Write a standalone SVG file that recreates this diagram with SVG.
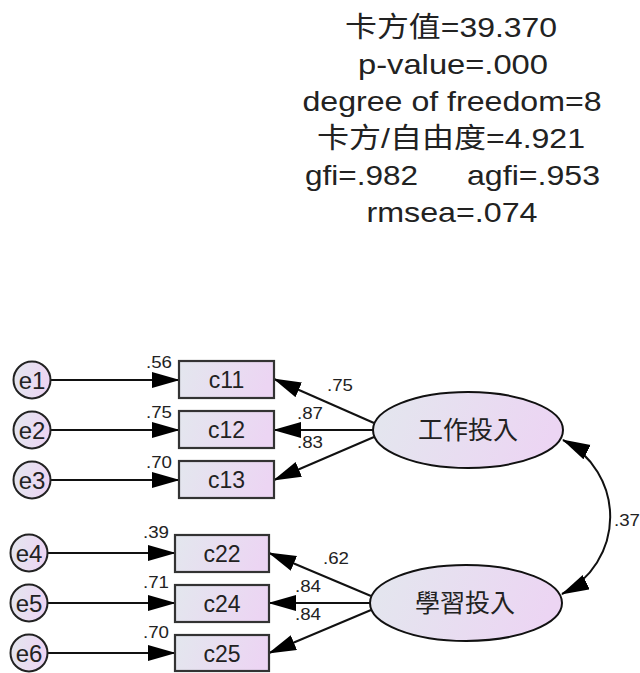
<svg xmlns="http://www.w3.org/2000/svg" width="640" height="673" viewBox="0 0 640 673">
<defs>
<linearGradient id="g" x1="0" y1="0" x2="1" y2="0.15">
<stop offset="0" stop-color="#e3e7ee"/>
<stop offset="1" stop-color="#ecd5f3"/>
</linearGradient>
<marker id="arr" markerUnits="userSpaceOnUse" markerWidth="30" markerHeight="18" refX="27" refY="8" orient="auto-start-reverse" viewBox="0 0 30 18">
<path d="M0,0 L28,8 L0,16 z" fill="#000"/>
</marker>
<style>
text{font-family:"Liberation Sans","Noto Sans CJK TC",sans-serif;fill:#222}
.stat{font-size:28px;text-anchor:middle}
.box{fill:url(#g);stroke:#333;stroke-width:2.2}
.err{fill:url(#g);stroke:#222;stroke-width:2}
.lat{fill:url(#g);stroke:#111;stroke-width:2}
.nm{font-size:23px;text-anchor:middle}
.en{font-size:24px;text-anchor:middle}
.cj{font-size:25px;text-anchor:middle}
.num{font-size:17px}
.ln{stroke:#111;stroke-width:2;fill:none;marker-end:url(#arr)}
</style>
</defs>

<g id="stats">
<text class="stat" x="451" y="37" textLength="212" lengthAdjust="spacingAndGlyphs">卡方值=39.370</text>
<text class="stat" x="453" y="74" textLength="190" lengthAdjust="spacingAndGlyphs">p-value=.000</text>
<text class="stat" x="452" y="111" textLength="299" lengthAdjust="spacingAndGlyphs">degree of freedom=8</text>
<text class="stat" x="451" y="148" textLength="268" lengthAdjust="spacingAndGlyphs">卡方/自由度=4.921</text>
<text class="stat" x="361.5" y="185" textLength="113" lengthAdjust="spacingAndGlyphs">gfi=.982</text>
<text class="stat" x="533.5" y="185" textLength="133" lengthAdjust="spacingAndGlyphs">agfi=.953</text>
<text class="stat" x="452" y="222" textLength="171" lengthAdjust="spacingAndGlyphs">rmsea=.074</text>
</g>

<g id="connectors">
<line class="ln" x1="51" y1="380" x2="179" y2="380"/>
<line class="ln" x1="51" y1="430" x2="179" y2="430"/>
<line class="ln" x1="51" y1="480" x2="179" y2="480"/>
<line class="ln" x1="48" y1="553" x2="175" y2="553"/>
<line class="ln" x1="48" y1="603" x2="175" y2="603"/>
<line class="ln" x1="48" y1="653" x2="175" y2="653"/>
<line class="ln" x1="374" y1="423" x2="274" y2="379"/>
<line class="ln" x1="373" y1="430" x2="274" y2="430"/>
<line class="ln" x1="374" y1="437" x2="274" y2="480"/>
<line class="ln" x1="371" y1="596" x2="269" y2="553"/>
<line class="ln" x1="370" y1="603" x2="269" y2="603"/>
<line class="ln" x1="371" y1="610" x2="269" y2="653"/>
<path class="ln" style="marker-start:url(#arr)" d="M563,440 A86,86 0 0 1 562,594"/>
<text class="num" x="146" y="368" textLength="26" lengthAdjust="spacingAndGlyphs">.56</text>
<text class="num" x="146" y="418" textLength="26" lengthAdjust="spacingAndGlyphs">.75</text>
<text class="num" x="146" y="468" textLength="26" lengthAdjust="spacingAndGlyphs">.70</text>
<text class="num" x="143" y="538" textLength="26" lengthAdjust="spacingAndGlyphs">.39</text>
<text class="num" x="143" y="588" textLength="26" lengthAdjust="spacingAndGlyphs">.71</text>
<text class="num" x="143" y="638" textLength="26" lengthAdjust="spacingAndGlyphs">.70</text>
<text class="num" x="327" y="391" textLength="26" lengthAdjust="spacingAndGlyphs">.75</text>
<text class="num" x="297" y="419" textLength="26" lengthAdjust="spacingAndGlyphs">.87</text>
<text class="num" x="297" y="448" textLength="26" lengthAdjust="spacingAndGlyphs">.83</text>
<text class="num" x="323" y="564" textLength="26" lengthAdjust="spacingAndGlyphs">.62</text>
<text class="num" x="295" y="592" textLength="26" lengthAdjust="spacingAndGlyphs">.84</text>
<text class="num" x="295" y="620" textLength="26" lengthAdjust="spacingAndGlyphs">.84</text>
<text class="num" x="614" y="526" textLength="26" lengthAdjust="spacingAndGlyphs">.37</text>
</g>

<g id="e1"><circle class="err" cx="32" cy="380" r="18.5"/><text class="en" x="32" y="388.5">e1</text></g>
<g id="e2"><circle class="err" cx="32" cy="430" r="18.5"/><text class="en" x="32" y="438.5">e2</text></g>
<g id="e3"><circle class="err" cx="32" cy="480" r="18.5"/><text class="en" x="32" y="488.5">e3</text></g>
<g id="e4"><circle class="err" cx="29" cy="553" r="18.5"/><text class="en" x="29" y="561.5">e4</text></g>
<g id="e5"><circle class="err" cx="29" cy="603" r="18.5"/><text class="en" x="29" y="611.5">e5</text></g>
<g id="e6"><circle class="err" cx="29" cy="653" r="18.5"/><text class="en" x="29" y="661.5">e6</text></g>

<g id="c11"><rect class="box" x="179" y="361" width="95" height="37"/><text class="nm" x="226.5" y="388">c11</text></g>
<g id="c12"><rect class="box" x="179" y="411" width="95" height="37"/><text class="nm" x="226.5" y="438">c12</text></g>
<g id="c13"><rect class="box" x="179" y="461" width="95" height="37"/><text class="nm" x="226.5" y="488">c13</text></g>
<g id="c22"><rect class="box" x="175" y="535" width="94" height="37"/><text class="nm" x="222" y="562">c22</text></g>
<g id="c24"><rect class="box" x="175" y="585" width="94" height="37"/><text class="nm" x="222" y="612">c24</text></g>
<g id="c25"><rect class="box" x="175" y="635" width="94" height="36"/><text class="nm" x="222" y="662">c25</text></g>

<g id="work"><ellipse class="lat" cx="468" cy="430" rx="95" ry="38"/><text class="cj" x="468" y="439">工作投入</text></g>
<g id="study"><ellipse class="lat" cx="466" cy="603" rx="96" ry="38"/><text class="cj" x="465" y="612">學習投入</text></g>
</svg>
